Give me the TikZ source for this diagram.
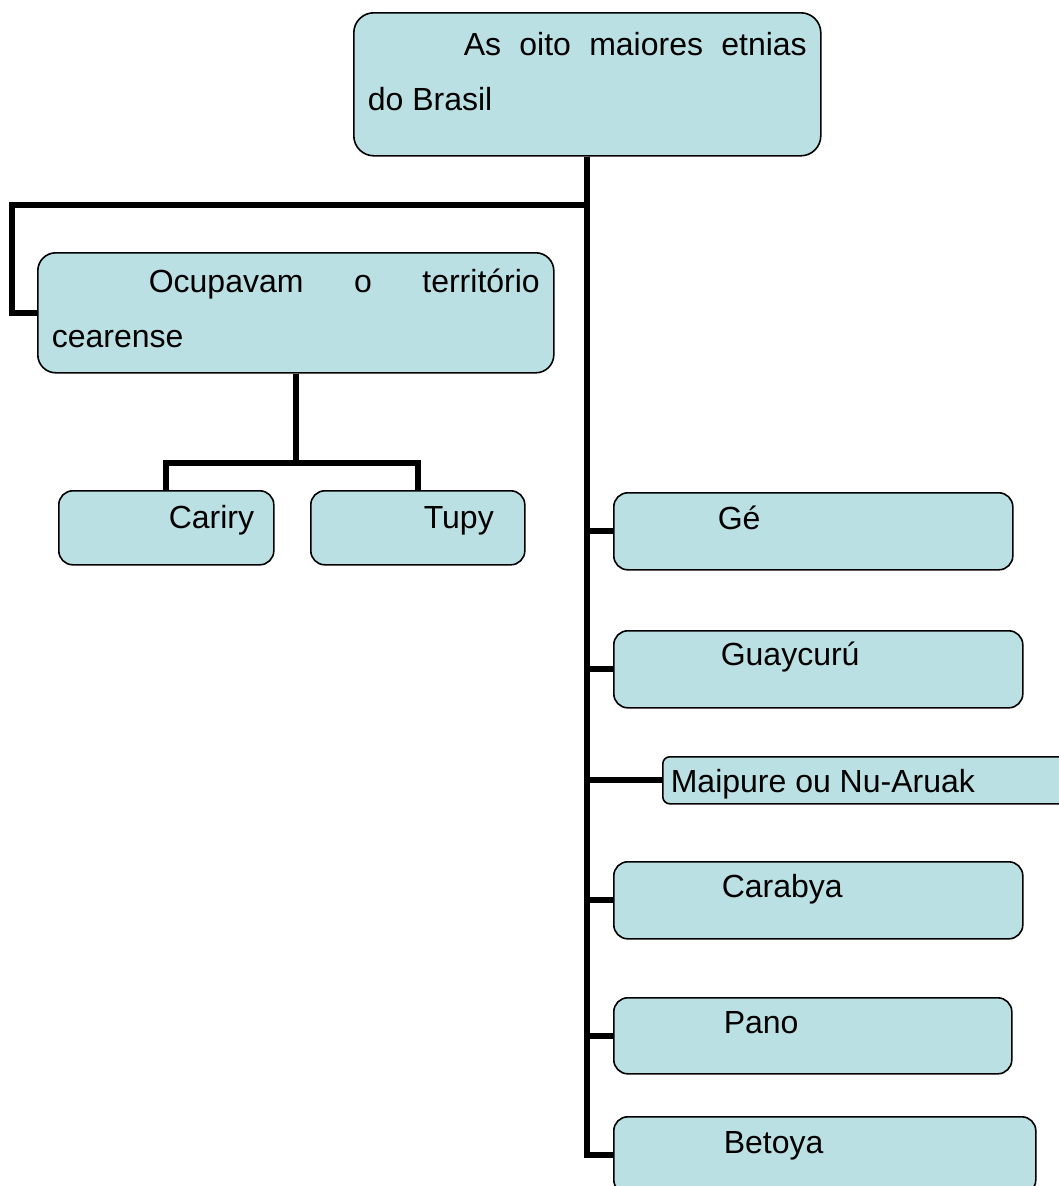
\documentclass[tikz,border=0pt]{standalone}
\usepackage{fontspec}
\setmainfont{Liberation Sans}
\definecolor{boxfill}{RGB}{187,224,227}
\begin{document}
\begin{tikzpicture}[x=1pt,y=-1pt,
  ethnbox/.style={draw, fill=boxfill, line width=1.6pt, rounded corners=14pt,
    anchor=north west, inner xsep=14pt, inner ysep=0pt, align=justify,
    font=\fontsize{32}{55}\selectfont},
  link/.style={line width=6pt}]
\useasboundingbox (0,0) rectangle (1059,1186);

\node[ethnbox, rounded corners=20pt, text width=439pt, text height=43pt, text depth=100pt] (top) at (353,12)
  {\hspace*{96pt}As oito maiores etnias\linebreak do Brasil};
\node[ethnbox, rounded corners=18pt, text width=488pt, text height=40pt, text depth=80pt] (ocup) at (37,252)
  {\hspace*{97pt}Ocupavam o território\linebreak cearense};

\node[ethnbox, text width=187pt, text height=38pt, text depth=36pt] (cariry) at (58,490) {\hspace*{96pt}Cariry};
\node[ethnbox, text width=186pt, text height=38pt, text depth=36pt] (tupy) at (310,490) {\hspace*{99pt}Tupy};

\node[ethnbox, text width=371pt, text height=37pt, text depth=40pt] (ge) at (613,492) {\hspace*{90pt}Gé};
\node[ethnbox, text width=381pt, text height=35pt, text depth=42pt] (guay) at (613,630) {\hspace*{93pt}Guaycurú};
\node[ethnbox, rounded corners=7pt, inner xsep=8pt, text width=397pt, text height=36pt, text depth=11pt] (maip) at (662,756)
  {Maipure ou Nu-Aruak};
\node[ethnbox, text width=381pt, text height=36pt, text depth=41pt] (carab) at (613,861) {\hspace*{94pt}Carabya};
\node[ethnbox, text width=370pt, text height=36pt, text depth=40pt] (pano) at (613,997) {\hspace*{96pt}Pano};
\node[ethnbox, text width=394pt, text height=37pt, text depth=40pt] (betoya) at (613,1116) {\hspace*{96pt}Betoya};

% tree lines
\coordinate (leftbend) at (12,205);
\coordinate (split) at (ocup.south |- 0,463);
\draw[link] (top.south) |- (leftbend) |- (ocup.west);
\draw[link] (ocup.south) -- (split) -| (cariry.north);
\draw[link] (split) -| (tupy.north);
\foreach \n in {ge,guay,maip,carab,pano,betoya}
  \draw[link] (top.south) |- (\n.west);
\end{tikzpicture}
\end{document}
